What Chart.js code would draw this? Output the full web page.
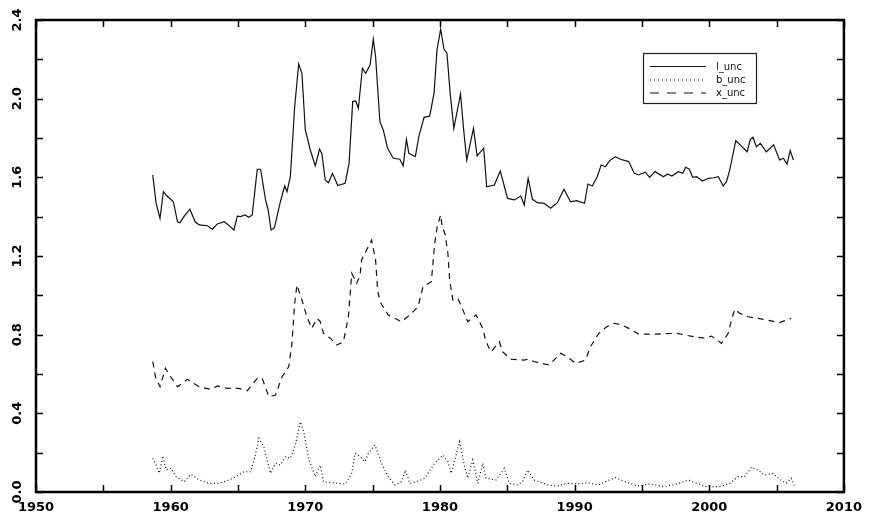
<!DOCTYPE html>
<html>
<head>
<meta charset="utf-8">
<script src="https://cdn.jsdelivr.net/npm/chart.js@4/dist/chart.umd.min.js"></script>
<style>
html,body{margin:0;padding:0;background:#fff;}
canvas{display:block;}
</style>
</head>
<body>
<canvas id="c" width="870" height="518"></canvas>
<script>
// ---- data ----
const xTickLabels = [1950, 1960, 1970, 1980, 1990, 2000, 2010];
const yTickLabels = ['0.0', '0.4', '0.8', '1.2', '1.6', '2.0', '2.4'];
const seriesNames = ['l_unc', 'b_unc', 'x_unc'];

const lYears = [1958.67,1958.92,1959.21,1959.46,1959.66,1960.20,1960.51,1960.69,1961.01,1961.43,1961.82,1962.12,1962.73,1963.10,1963.47,1963.97,1964.28,1964.70,1964.95,1965.20,1965.52,1965.81,1966.06,1966.43,1966.68,1967.05,1967.24,1967.46,1967.71,1968.15,1968.47,1968.64,1968.89,1969.21,1969.51,1969.75,1970.00,1970.37,1970.74,1971.06,1971.23,1971.48,1971.72,1972.02,1972.41,1972.96,1973.25,1973.52,1973.74,1973.94,1974.24,1974.48,1974.81,1975.05,1975.22,1975.54,1975.79,1976.11,1976.53,1977.02,1977.27,1977.51,1977.69,1978.17,1978.43,1978.82,1979.24,1979.56,1979.78,1980.05,1980.30,1980.52,1980.76,1981.03,1981.53,1981.75,1981.99,1982.49,1982.76,1983.25,1983.47,1984.04,1984.48,1985.02,1985.52,1986.01,1986.26,1986.55,1986.87,1987.24,1987.74,1988.22,1988.72,1989.21,1989.70,1990.15,1990.74,1990.99,1991.31,1991.68,1991.97,1992.29,1992.61,1993.03,1993.40,1994.02,1994.43,1994.76,1995.24,1995.57,1995.98,1996.60,1996.90,1997.22,1997.71,1998.03,1998.25,1998.52,1998.77,1999.06,1999.51,1999.93,2000.34,2000.67,2001.04,2001.28,2001.52,2001.97,2002.39,2002.81,2003.05,2003.25,2003.50,2003.79,2004.24,2004.78,2005.22,2005.51,2005.77,2006.01,2006.25];
const lValues = [1.612,1.468,1.392,1.527,1.510,1.476,1.374,1.369,1.403,1.438,1.374,1.358,1.354,1.336,1.363,1.374,1.358,1.332,1.403,1.400,1.409,1.397,1.409,1.641,1.641,1.485,1.434,1.332,1.344,1.476,1.556,1.527,1.603,1.959,2.176,2.129,1.841,1.739,1.658,1.743,1.722,1.587,1.573,1.621,1.558,1.570,1.671,1.985,1.988,1.951,2.155,2.129,2.171,2.302,2.214,1.883,1.841,1.748,1.697,1.692,1.658,1.793,1.722,1.705,1.807,1.905,1.912,2.027,2.248,2.353,2.251,2.231,2.027,1.849,2.024,1.849,1.688,1.849,1.709,1.748,1.552,1.561,1.632,1.493,1.485,1.505,1.459,1.595,1.488,1.471,1.468,1.443,1.471,1.539,1.476,1.481,1.468,1.566,1.556,1.603,1.663,1.654,1.685,1.705,1.692,1.680,1.621,1.612,1.626,1.600,1.629,1.603,1.617,1.607,1.629,1.621,1.651,1.641,1.600,1.603,1.581,1.595,1.598,1.603,1.556,1.578,1.637,1.786,1.759,1.730,1.793,1.804,1.756,1.773,1.730,1.765,1.688,1.697,1.666,1.736,1.688];

const bYears = [1958.67,1958.92,1959.16,1959.41,1959.66,1960.03,1960.40,1961.01,1961.50,1962.12,1962.86,1963.60,1964.33,1964.83,1965.44,1965.94,1966.26,1966.55,1966.92,1967.42,1967.79,1968.15,1968.52,1968.89,1969.26,1969.63,1969.88,1970.25,1970.74,1971.11,1971.35,1971.97,1972.96,1973.45,1973.70,1974.07,1974.44,1974.68,1975.17,1975.66,1976.16,1976.65,1977.14,1977.44,1977.76,1978.25,1978.87,1979.61,1980.22,1980.59,1980.84,1981.46,1981.83,1982.07,1982.44,1982.81,1983.18,1983.42,1984.16,1984.78,1985.15,1985.76,1986.13,1986.50,1987.00,1987.98,1988.72,1989.46,1990.20,1990.94,1991.80,1992.41,1993.03,1993.77,1994.63,1995.61,1996.60,1997.59,1998.45,1999.06,1999.80,2000.79,2001.52,2002.14,2002.63,2003.13,2003.62,2004.11,2004.73,2005.22,2005.71,2006.08,2006.33];
const bValues = [0.171,0.137,0.095,0.183,0.112,0.121,0.078,0.052,0.090,0.061,0.044,0.044,0.061,0.078,0.103,0.103,0.180,0.273,0.230,0.095,0.146,0.137,0.180,0.171,0.239,0.357,0.307,0.171,0.078,0.137,0.052,0.047,0.041,0.095,0.197,0.180,0.154,0.197,0.239,0.146,0.078,0.036,0.052,0.112,0.044,0.052,0.070,0.146,0.188,0.154,0.095,0.256,0.129,0.070,0.163,0.044,0.146,0.070,0.061,0.121,0.044,0.036,0.052,0.112,0.061,0.036,0.031,0.044,0.041,0.047,0.036,0.056,0.073,0.052,0.031,0.041,0.027,0.041,0.061,0.044,0.027,0.027,0.044,0.078,0.078,0.126,0.112,0.086,0.095,0.065,0.044,0.070,0.031];

const xYears = [1958.67,1958.87,1959.21,1959.61,1960.03,1960.51,1961.25,1962.12,1962.98,1963.47,1964.21,1965.07,1965.69,1966.43,1966.80,1967.29,1967.79,1968.27,1968.77,1969.01,1969.21,1969.38,1969.75,1970.12,1970.49,1970.86,1971.11,1971.35,1971.85,1972.34,1972.83,1973.20,1973.45,1973.82,1974.07,1974.18,1974.92,1975.22,1975.37,1975.54,1976.16,1977.14,1977.76,1978.37,1978.74,1979.36,1979.61,1979.80,1980.05,1980.15,1980.39,1980.59,1980.72,1980.96,1981.33,1981.70,1982.07,1982.68,1983.18,1983.42,1983.79,1984.41,1984.65,1985.27,1986.26,1986.50,1987.00,1988.11,1988.96,1989.46,1990.07,1990.81,1991.18,1991.80,1992.41,1992.91,1993.52,1994.02,1994.76,1996.11,1997.59,1998.82,1999.68,2000.17,2000.91,2001.41,2001.65,2001.89,2002.26,2002.88,2004.24,2005.22,2006.08];
const xValues = [0.663,0.586,0.535,0.629,0.583,0.535,0.573,0.535,0.522,0.539,0.527,0.527,0.515,0.578,0.578,0.485,0.493,0.586,0.637,0.756,0.960,1.053,0.976,0.891,0.832,0.883,0.866,0.807,0.782,0.747,0.764,0.891,1.112,1.061,1.103,1.180,1.281,1.180,1.027,0.968,0.900,0.866,0.900,0.942,1.044,1.069,1.265,1.349,1.409,1.358,1.307,1.214,1.078,0.976,0.985,0.926,0.866,0.900,0.832,0.764,0.713,0.764,0.713,0.675,0.671,0.675,0.663,0.646,0.705,0.688,0.654,0.671,0.739,0.807,0.841,0.858,0.849,0.832,0.803,0.803,0.807,0.790,0.782,0.793,0.756,0.807,0.875,0.929,0.909,0.891,0.875,0.861,0.883];

function pts(xs, ys) { return xs.map((x, i) => ({x: x, y: ys[i]})); }

const FONT = '"DejaVu Sans", "Liberation Sans", Arial, sans-serif';
const INK = '#111';

const framePlugin = {
  id: 'frame',
  afterDraw(chart) {
    const {ctx, chartArea: a, scales} = chart;
    const xs = scales.x, ys = scales.y;
    ctx.save();
    ctx.strokeStyle = '#000';
    // inward ticks
    ctx.lineWidth = 1.5;
    ctx.beginPath();
    const first = xTickLabels[0], last = xTickLabels[xTickLabels.length - 1];
    const xStep = (xTickLabels[1] - xTickLabels[0]) / 2;
    for (let v = first; v <= last; v += xStep) {
      const px = Math.round(xs.getPixelForValue(v)) + 0.5;
      ctx.moveTo(px, a.bottom); ctx.lineTo(px, a.bottom - 7);
      ctx.moveTo(px, a.top); ctx.lineTo(px, a.top + 7);
    }
    const yNums = yTickLabels.map(Number);
    const yStep = (yNums[1] - yNums[0]) / 2;
    for (let k = 0; k <= (yNums.length - 1) * 2; k++) {
      const v = yNums[0] + k * yStep;
      const py = Math.round(ys.getPixelForValue(v)) + 0.5;
      ctx.moveTo(a.left, py); ctx.lineTo(a.left + 7, py);
      ctx.moveTo(a.right, py); ctx.lineTo(a.right - 7, py);
    }
    ctx.stroke();
    // frame
    ctx.lineWidth = 2.5;
    ctx.strokeRect(a.left, a.top, a.right - a.left, a.bottom - a.top);

    // legend box
    const bx = 643.5, by = 53.5, bw = 113, bh = 50;
    ctx.lineWidth = 1.2;
    ctx.strokeStyle = '#222';
    ctx.strokeRect(bx, by, bw, bh);
    const rows = [66, 79.5, 92.5];
    chart.data.datasets.forEach((ds, i) => {
      ctx.save();
      ctx.strokeStyle = INK;
      ctx.lineWidth = 1;
      ctx.setLineDash(ds.borderDash && ds.borderDash.length ? [ds.borderDash[0] + 3, ds.borderDash[1] + 3] : []);
      if (i === 1) ctx.setLineDash([1, 3]);
      ctx.beginPath();
      ctx.moveTo(650, rows[i] + 0.5);
      ctx.lineTo(706, rows[i] + 0.5);
      ctx.stroke();
      ctx.restore();
      ctx.fillStyle = INK;
      ctx.font = '10px ' + FONT;
      ctx.textBaseline = 'middle';
      ctx.textAlign = 'left';
      ctx.fillText(ds.label, 716, rows[i] + 1);
    });
    ctx.restore();
  }
};

new Chart(document.getElementById('c'), {
  type: 'line',
  data: {
    datasets: [
      {label: seriesNames[0], data: pts(lYears, lValues), borderColor: INK, borderWidth: 1.2, borderDash: []},
      {label: seriesNames[1], data: pts(bYears, bValues), borderColor: INK, borderWidth: 1.2, borderDash: [1, 2.5]},
      {label: seriesNames[2], data: pts(xYears, xValues), borderColor: INK, borderWidth: 1.2, borderDash: [6, 5]}
    ]
  },
  options: {
    responsive: false,
    animation: false,
    devicePixelRatio: 1,
    layout: {padding: {top: 20, right: 22, left: 0, bottom: 0}},
    elements: {point: {radius: 0}, line: {tension: 0, fill: false}},
    plugins: {legend: {display: false}, tooltip: {enabled: false}},
    scales: {
      x: {
        type: 'linear',
        min: xTickLabels[0],
        max: xTickLabels[xTickLabels.length - 1],
        border: {display: false},
        grid: {display: false, drawTicks: false},
        ticks: {
          stepSize: 10,
          padding: 8,
          color: '#000',
          font: {family: FONT, size: 13, weight: 'bold'},
          maxRotation: 0,
          callback: (v) => xTickLabels.includes(v) ? String(v) : ''
        },
        afterFit: (s) => { s.height = 26; }
      },
      y: {
        type: 'linear',
        min: Number(yTickLabels[0]),
        max: Number(yTickLabels[yTickLabels.length - 1]),
        border: {display: false},
        grid: {display: false, drawTicks: false},
        ticks: {
          stepSize: 0.4,
          padding: 7,
          color: '#000',
          crossAlign: 'center',
          minRotation: 90,
          maxRotation: 90,
          font: {family: FONT, size: 13, weight: 'bold'},
          callback: (v) => {
            const idx = yTickLabels.findIndex(t => Math.abs(Number(t) - v) < 1e-6);
            return idx >= 0 ? yTickLabels[idx] : '';
          }
        },
        afterFit: (s) => { s.width = 36; }
      }
    }
  },
  plugins: [framePlugin]
});
</script>
</body>
</html>
